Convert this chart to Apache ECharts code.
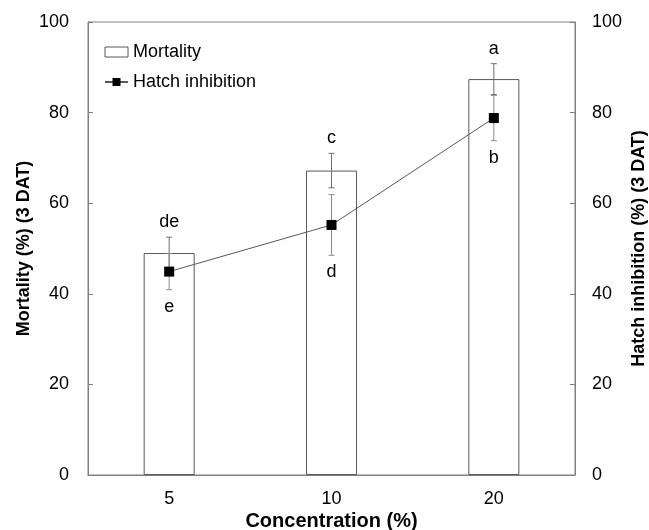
<!DOCTYPE html>
<html><head><meta charset="utf-8">
<script src="https://cdn.jsdelivr.net/npm/echarts@6/dist/echarts.min.js"></script>
<style>html,body{margin:0;padding:0;background:#fff}#c{width:649px;height:530px}</style>
</head><body><div id="c"></div>
<script>
const categories = ['5', '10', '20'];
const mortality = [49.0, 67.2, 87.4];
const mortalityErr = [3.5, 3.8, 3.4];
const mortalityLetters = ['de', 'c', 'a'];
const hatch = [44.9, 55.2, 78.8];
const hatchErr = [4.0, 6.7, 5.0];
const hatchLetters = ['e', 'd', 'b'];
const yTicks = [0, 20, 40, 60, 80, 100];

const FONT = 'Liberation Sans, Arial, sans-serif';
const AX = '#808080';

function errSeries(name, vals, errs, yIdx, color, z) {
  return {
    type: 'custom', name: name, yAxisIndex: yIdx, z: z, silent: true,
    data: vals.map((v, i) => [i, v - errs[i], v + errs[i]]),
    renderItem: function (params, api) {
      const lo = api.coord([api.value(0), api.value(1)]);
      const hi = api.coord([api.value(0), api.value(2)]);
      const w = 3;
      const st = { stroke: color, lineWidth: 1 };
      return { type: 'group', children: [
        { type: 'line', shape: { x1: hi[0], y1: hi[1], x2: lo[0], y2: lo[1] }, style: st },
        { type: 'line', shape: { x1: hi[0] - w, y1: hi[1], x2: hi[0] + w, y2: hi[1] }, style: st },
        { type: 'line', shape: { x1: lo[0] - w, y1: lo[1], x2: lo[0] + w, y2: lo[1] }, style: st }
      ]};
    }
  };
}

function letterSeries(vals, errs, letters, yIdx, above) {
  return {
    type: 'custom', yAxisIndex: yIdx, z: 10, silent: true,
    data: vals.map((v, i) => [i, above ? v + errs[i] : v - errs[i]]),
    renderItem: function (params, api) {
      const p = api.coord([api.value(0), api.value(1)]);
      return { type: 'text', x: p[0], y: above ? p[1] - 6 : p[1] + 8,
        style: { text: letters[params.dataIndex], fill: '#000', font: '18px ' + FONT,
          textAlign: 'center', textVerticalAlign: above ? 'bottom' : 'top' } };
    }
  };
}

const yAxisCommon = {
  type: 'value', min: 0, max: 100, interval: 20,
  splitLine: { show: false },
  axisLine: { show: true, lineStyle: { color: AX, width: 1 } },
  axisTick: { show: true, inside: true, length: 5, lineStyle: { color: AX } },
  nameLocation: 'middle', nameRotate: 90, nameMoveOverlap: false,
  nameTextStyle: { fontFamily: FONT, fontSize: 18, fontWeight: 'bold', color: '#000' }
};

const option = {
  animation: false,
  backgroundColor: '#fff',
  grid: { left: 88, right: 74, top: 22, bottom: 55, containLabel: false, outerBoundsMode: 'none',
    show: true, borderColor: AX, borderWidth: 1, backgroundColor: 'transparent' },
  legend: {
    left: 104, top: 43, orient: 'vertical', padding: 0, itemWidth: 23, itemHeight: 10, itemGap: 12,
    textStyle: { fontFamily: FONT, fontSize: 18, color: '#000' },
    data: [
      { name: 'Mortality', icon: 'rect', itemStyle: { color: '#fff', borderColor: '#595959', borderWidth: 1 } },
      { name: 'Hatch inhibition' }
    ]
  },
  xAxis: {
    type: 'category', data: categories,
    axisLine: { lineStyle: { color: AX } },
    axisTick: { show: false },
    axisLabel: { fontFamily: FONT, fontSize: 18, color: '#000', margin: 15 },
    name: 'Concentration (%)', nameLocation: 'middle', nameGap: 36, nameMoveOverlap: false,
    nameTextStyle: { fontFamily: FONT, fontSize: 20, fontWeight: 'bold', color: '#000' }
  },
  yAxis: [
    Object.assign({}, yAxisCommon, { position: 'left', name: 'Mortality (%) (3 DAT)', nameGap: 55,
      axisLabel: { fontFamily: FONT, fontSize: 18, color: '#000', margin: 19,
        formatter: v => yTicks.includes(v) ? String(v) : '' } }),
    Object.assign({}, yAxisCommon, { position: 'right', name: 'Hatch inhibition (%) (3 DAT)', nameGap: 55,
      axisLabel: { fontFamily: FONT, fontSize: 18, color: '#000', margin: 17,
        formatter: v => yTicks.includes(v) ? String(v) : '' } })
  ],
  series: [
    { name: 'Mortality', type: 'bar', data: mortality, barWidth: 51, z: 2,
      itemStyle: { color: '#fff', borderColor: '#595959', borderWidth: 1 } },
    errSeries('mErr', mortality, mortalityErr, 0, '#6e6e6e', 3),
    errSeries('hErr', hatch, hatchErr, 1, '#8c8c8c', 3),
    { name: 'Hatch inhibition', type: 'line', yAxisIndex: 1, data: hatch, z: 5,
      symbol: 'rect', symbolSize: 10,
      lineStyle: { color: '#595959', width: 1 },
      itemStyle: { color: '#000' } },
    letterSeries(mortality, mortalityErr, mortalityLetters, 0, true),
    letterSeries(hatch, hatchErr, hatchLetters, 1, false)
  ]
};
echarts.init(document.getElementById('c')).setOption(option);
</script></body></html>
